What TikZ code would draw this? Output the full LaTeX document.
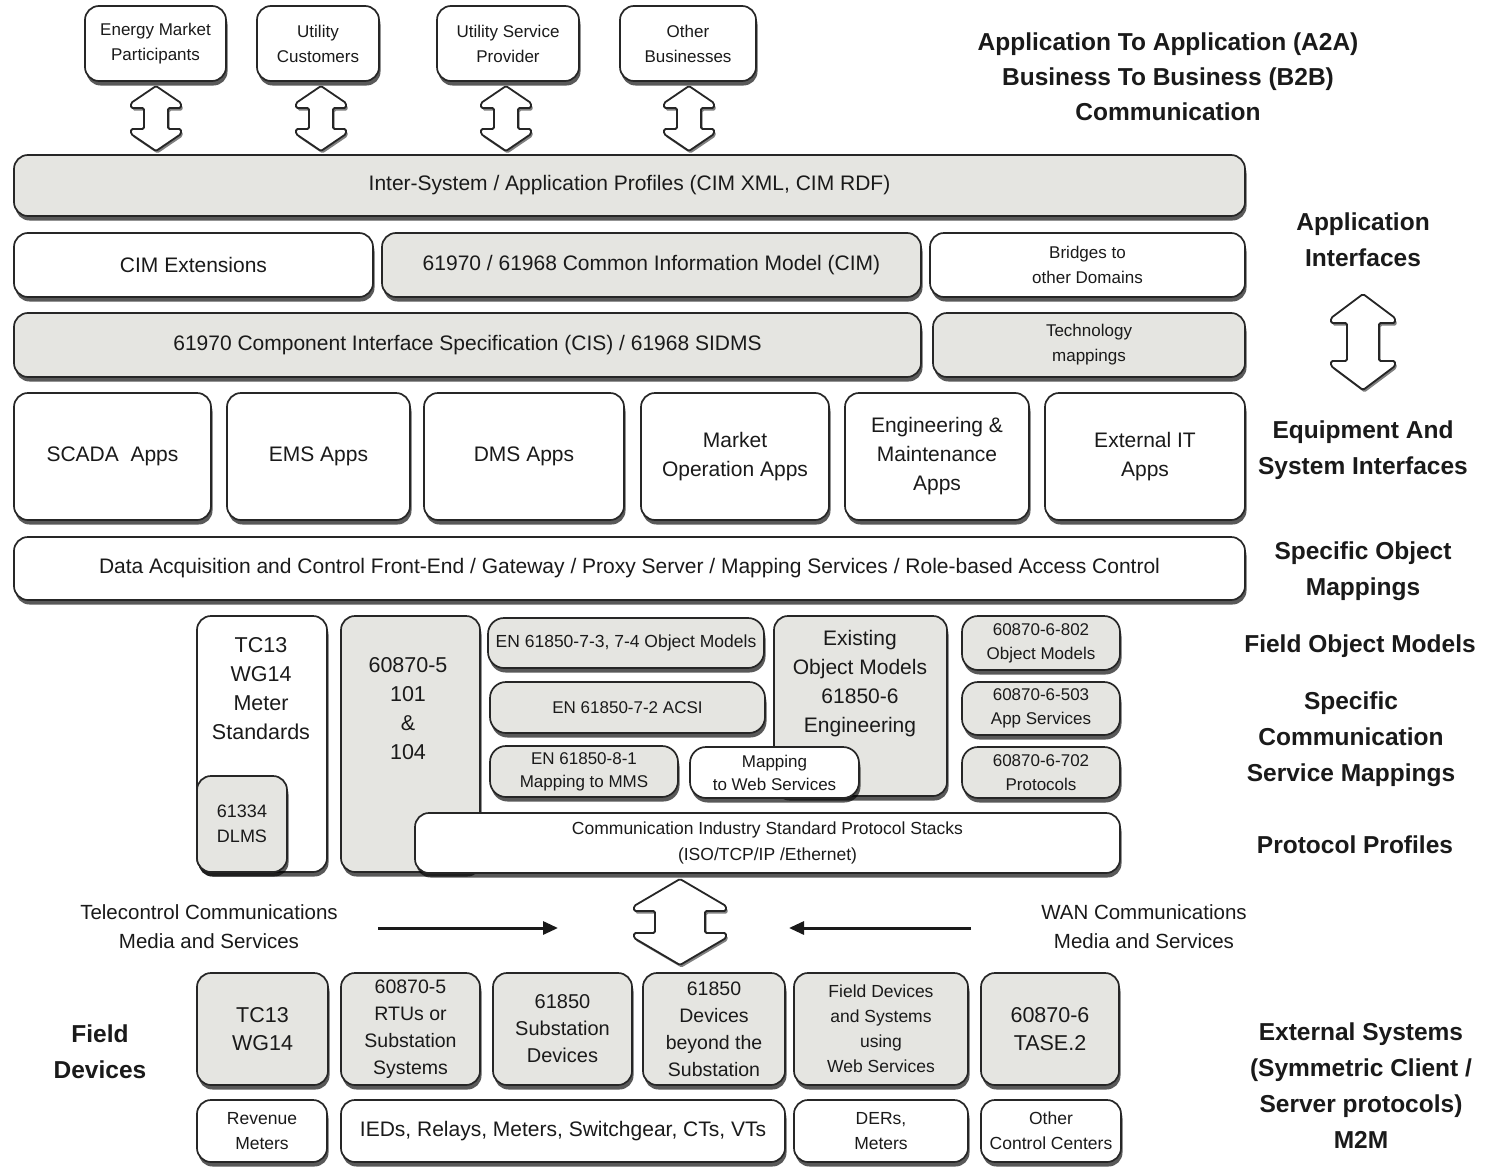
\documentclass[tikz,border=0pt]{standalone}
\usepackage{fontspec}
\setmainfont{Liberation Sans}
\usetikzlibrary{shadows,arrows.meta}
\definecolor{bgray}{HTML}{E5E5E1}
\definecolor{ink}{HTML}{1A1A1A}
\tikzset{
  shd/.style={drop shadow={shadow xshift=1.5pt,shadow yshift=-4.5pt,opacity=0.65,fill=black}},
  box/.style={draw=black!85,line width=1.7pt,rounded corners=14pt,inner sep=1pt,align=center,text=ink,shd},
  gbox/.style={box,fill=bgray},
  wbox/.style={box,fill=white},
  t21/.style={font=\fontsize{21}{29}\selectfont},
  t20/.style={font=\fontsize{20}{27}\selectfont},
  t18/.style={font=\fontsize{18}{25}\selectfont},
  t17/.style={font=\fontsize{17}{25}\selectfont},
  plain/.style={align=center,text=ink,inner sep=0pt},
  lab/.style={plain,font=\bfseries\fontsize{24.5}{36}\selectfont},
  darr/.style={fill=white,draw=black!85,line width=1.8pt,line join=round,rounded corners=1.5pt,
    drop shadow={shadow xshift=1.5pt,shadow yshift=-2.5pt,opacity=0.5,fill=black}},
  flow/.style={draw=ink,line width=3pt,-{Triangle[length=15pt,width=13pt]}}
}
\newcommand\Bx[7]{\node[#6,minimum width={(#4-#2)*1pt},minimum height={(#5-#3)*1pt}] (#1) at ({(#2+#4)/2},{(#3+#5)/2}) {#7};}
\newcommand\DArrow[7]{%
  \filldraw[darr] (#1,#2) -- ({#1+#4},{#2+#6}) -- ({#1+#4},{#2+#6+#7}) -- ({#1+#5},{#2+#6+#7})
   -- ({#1+#5},{#3-#6-#7}) -- ({#1+#4},{#3-#6-#7}) -- ({#1+#4},{#3-#6}) -- (#1,#3)
   -- ({#1-#4},{#3-#6}) -- ({#1-#4},{#3-#6-#7}) -- ({#1-#5},{#3-#6-#7}) -- ({#1-#5},{#2+#6+#7})
   -- ({#1-#4},{#2+#6+#7}) -- ({#1-#4},{#2+#6}) -- cycle;}
\begin{document}
\begin{tikzpicture}[x=1pt,y=-1pt]
\useasboundingbox (0,0) rectangle (1489,1167);
\fill[white] (0,0) rectangle (1489,1167);

% top partner boxes
\Bx{emp}{85}{6}{226}{81}{wbox,t17}{Energy Market\\Participants}
\Bx{uc}{257}{6}{379}{81}{wbox,t17}{Utility\\Customers}
\Bx{usp}{437}{6}{579}{81}{wbox,t17}{Utility Service\\Provider}
\Bx{ob}{620}{6}{756}{81}{wbox,t17}{Other\\Businesses}

\DArrow{156}{86}{151}{25}{12}{17}{5}
\DArrow{321}{86}{151}{25}{12}{17}{5}
\DArrow{506}{86}{151}{25}{12}{17}{5}
\DArrow{689}{86}{151}{25}{12}{17}{5}

\node[lab,font=\bfseries\fontsize{24.5}{35}\selectfont] (a2a) at (1168,77) {Application To Application (A2A)\\Business To Business (B2B)\\Communication};

% upper stack
\Bx{isap}{14}{155}{1245}{216}{gbox,t21}{Inter-System / Application Profiles (CIM XML, CIM RDF)}
\Bx{cimext}{14}{233}{373}{297}{wbox,t21}{CIM Extensions}
\Bx{cim}{382}{233}{921}{297}{gbox,t21}{61970 / 61968 Common Information Model (CIM)}
\Bx{bridges}{930}{233}{1245}{297}{wbox,t17}{Bridges to\\other Domains}
\Bx{cis}{14}{313}{921}{377}{gbox,t21}{61970 Component Interface Specification (CIS) / 61968 SIDMS}
\Bx{techmap}{933}{313}{1245}{377}{gbox,t17}{Technology\\mappings}

\Bx{scada}{14}{393}{211}{520}{wbox,t21}{SCADA\ \ Apps}
\Bx{ems}{227}{393}{410}{520}{wbox,t21}{EMS Apps}
\Bx{dms}{424}{393}{624}{520}{wbox,t21}{DMS Apps}
\Bx{mkt}{641}{393}{829}{520}{wbox,t21}{Market\\Operation Apps}
\Bx{eng}{845}{393}{1029}{520}{wbox,t21}{Engineering \&\\Maintenance\\Apps}
\Bx{extit}{1045}{393}{1245}{520}{wbox,t21}{External IT\\Apps}

\Bx{daq}{14}{537}{1245}{600}{wbox,t21}{Data Acquisition and Control Front-End / Gateway / Proxy Server / Mapping Services / Role-based Access Control}

% right-hand labels
\node[lab] (appif) at (1363,240) {Application\\Interfaces};
\DArrow{1363}{294}{390}{32}{16}{24}{5}
\node[lab] (eqsys) at (1363,450) {Equipment And\\System Interfaces};
\node[lab] (som) at (1363,571) {Specific Object\\Mappings};
\node[lab] (fom) at (1360,646) {Field Object Models};
\node[lab] (scsm) at (1351,739) {Specific\\Communication\\Service Mappings};
\node[lab] (pp) at (1355,845) {Protocol Profiles};

% middle standards block
\Bx{tc13}{197}{616}{327}{872}{wbox}{}
\node[plain,font=\fontsize{21.5}{29}\selectfont] (tc13t) at (261,689) {TC13\\WG14\\Meter\\Standards};
\Bx{dlms}{197}{776}{287}{872}{gbox,t18}{61334\\DLMS}
\Bx{iec5}{341}{616}{480}{872}{gbox}{}
\node[plain,font=\fontsize{21.5}{29}\selectfont] (iec5t) at (408,709) {60870-5\\101\\\&\\104};
\Bx{en73}{488}{618}{764}{668}{gbox,font=\fontsize{17.5}{22}\selectfont,rounded corners=16pt}{EN 61850-7-3, 7-4 Object Models}
\Bx{en72}{490}{682}{765}{733}{gbox,t17,rounded corners=16pt}{EN 61850-7-2 ACSI}
\Bx{existing}{774}{616}{947}{796}{gbox}{}
\node[plain,t21] (existingt) at (860,684) {Existing\\Object Models\\61850-6\\Engineering};
\Bx{en81}{490}{746}{678}{797}{gbox,font=\fontsize{17}{23}\selectfont,rounded corners=16pt}{EN 61850-8-1\\Mapping to MMS}
\Bx{mws}{690}{747}{859}{798}{wbox,font=\fontsize{17}{23}\selectfont,rounded corners=16pt}{Mapping\\to Web Services}
\Bx{t802}{962}{616}{1120}{670}{gbox,font=\fontsize{17}{24}\selectfont,rounded corners=16pt}{60870-6-802\\Object Models}
\Bx{t503}{962}{682}{1120}{735}{gbox,font=\fontsize{17}{24}\selectfont,rounded corners=16pt}{60870-6-503\\App Services}
\Bx{t702}{962}{747}{1120}{798}{gbox,font=\fontsize{17}{24}\selectfont,rounded corners=16pt}{60870-6-702\\Protocols}
\Bx{stack}{415}{813}{1120}{873}{wbox,font=\fontsize{17.5}{26}\selectfont}{Communication Industry Standard Protocol Stacks\\(ISO/TCP/IP /Ethernet)}

% media
\node[plain,font=\fontsize{20.5}{29}\selectfont] (tele) at (209,927) {Telecontrol Communications\\Media and Services};
\node[plain,font=\fontsize{20.5}{29}\selectfont] (wan) at (1144,927) {WAN Communications\\Media and Services};
\DArrow{680}{879}{965}{46}{25}{27}{5}
\coordinate (teleA) at (378,928);
\coordinate (teleB) at (558,928);
\coordinate (wanA) at (971,928);
\coordinate (wanB) at (789,928);
\draw[flow] (teleA) -- (teleB);
\draw[flow] (wanA) -- (wanB);

% field devices
\node[lab] (fd) at (100,1052) {Field\\Devices};
\Bx{ftc13}{197}{973}{328}{1085}{gbox,font=\fontsize{21.5}{28}\selectfont}{TC13\\WG14}
\Bx{rtu}{341}{973}{480}{1085}{gbox,font=\fontsize{19.5}{27}\selectfont}{60870-5\\RTUs or\\Substation\\Systems}
\Bx{subdev}{493}{973}{632}{1085}{gbox,font=\fontsize{20}{27}\selectfont}{61850\\Substation\\Devices}
\Bx{beyond}{643}{973}{785}{1085}{gbox,font=\fontsize{19.5}{27}\selectfont}{61850\\Devices\\beyond the\\Substation}
\Bx{webdev}{794}{973}{968}{1085}{gbox,font=\fontsize{17.5}{25}\selectfont}{Field Devices\\and Systems\\using\\Web Services}
\Bx{tase}{981}{973}{1119}{1085}{gbox,font=\fontsize{21.5}{28}\selectfont}{60870-6\\TASE.2}

\Bx{revm}{197}{1100}{327}{1162}{wbox,font=\fontsize{17.5}{25}\selectfont}{Revenue\\Meters}
\Bx{ieds}{341}{1100}{785}{1162}{wbox,t21}{IEDs, Relays, Meters, Switchgear, CTs, VTs}
\Bx{ders}{794}{1100}{968}{1162}{wbox,font=\fontsize{17.5}{25}\selectfont}{DERs,\\Meters}
\Bx{occ}{981}{1100}{1121}{1162}{wbox,font=\fontsize{17.5}{25}\selectfont}{Other\\Control Centers}

\node[lab] (ext) at (1361,1086) {External Systems\\(Symmetric Client /\\Server protocols)\\M2M};
\end{tikzpicture}
\end{document}
